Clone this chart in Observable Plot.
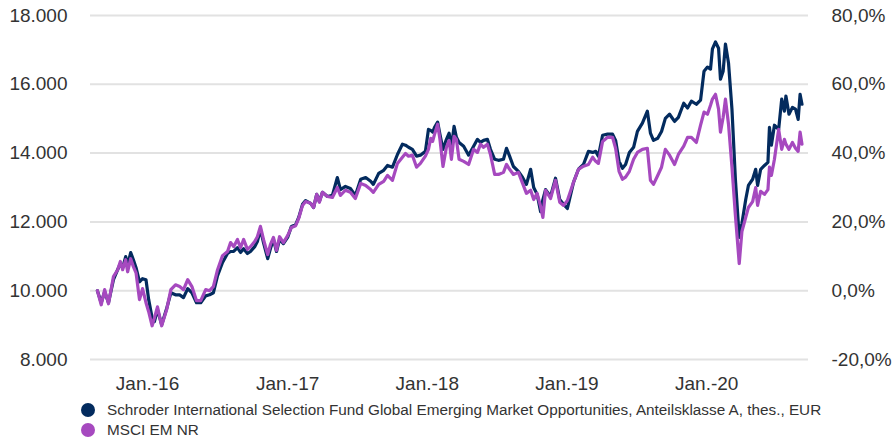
<!DOCTYPE html>
<html><head><meta charset="utf-8">
<script src="https://cdn.jsdelivr.net/npm/d3@7"></script>
<script src="https://cdn.jsdelivr.net/npm/@observablehq/plot@0.6"></script>
<style>
html,body{margin:0;padding:0;background:#fff;}
body{font-family:"Liberation Sans",Arial,Helvetica,sans-serif;width:893px;height:442px;overflow:hidden;}
#legend{font-size:15.3px;color:#333;}
.item{display:flex;align-items:center;height:20px;}
.sw{width:14px;height:14px;border-radius:50%;margin-left:81px;margin-right:12px;flex:none;}
</style></head><body>
<div id="chart"></div>
<div id="legend"></div>
<script>
const dates = [
"2015-08-23","2015-09-02","2015-09-11","2015-09-21","2015-10-04","2015-10-15","2015-10-22","2015-10-28","2015-11-05","2015-11-10","2015-11-18","2015-11-25","2015-12-02","2015-12-11","2015-12-19","2015-12-28",
"2016-01-04","2016-01-13","2016-01-19","2016-01-27","2016-02-07","2016-02-20","2016-03-02","2016-03-14","2016-03-25","2016-04-04","2016-04-15","2016-04-26","2016-05-08","2016-05-19","2016-06-01","2016-06-11","2016-06-21","2016-07-02","2016-07-15","2016-07-28","2016-08-05","2016-08-13","2016-08-23","2016-08-31","2016-09-08","2016-09-18","2016-09-26","2016-10-07","2016-10-14","2016-10-22","2016-10-30","2016-11-10","2016-11-17","2016-11-25","2016-12-03","2016-12-11","2016-12-21",
"2017-01-01","2017-01-11","2017-01-22","2017-01-30","2017-02-09","2017-02-17","2017-03-02","2017-03-10","2017-03-18","2017-03-25","2017-04-02","2017-04-15","2017-04-28","2017-05-11","2017-05-19","2017-06-01","2017-06-14","2017-06-27","2017-07-11","2017-07-24","2017-08-06","2017-08-13","2017-08-27","2017-09-09","2017-09-19","2017-10-02","2017-10-15","2017-10-28","2017-11-05","2017-11-13","2017-11-23","2017-12-04","2017-12-14","2017-12-27",
"2018-01-04","2018-01-10","2018-01-15","2018-01-20","2018-01-28","2018-02-03","2018-02-11","2018-02-20","2018-02-27","2018-03-05","2018-03-12","2018-03-18","2018-03-25","2018-04-06","2018-04-19","2018-05-02","2018-05-12","2018-05-20","2018-05-28","2018-06-07","2018-06-15","2018-06-26","2018-07-06","2018-07-19","2018-07-27","2018-08-04","2018-08-14","2018-08-27","2018-09-07","2018-09-17","2018-09-28","2018-10-06","2018-10-15","2018-10-24","2018-10-30","2018-11-06","2018-11-19","2018-12-02","2018-12-13","2018-12-23",
"2019-01-02","2019-01-18","2019-01-31","2019-02-13","2019-02-26","2019-03-09","2019-03-17","2019-03-24","2019-04-04","2019-04-17","2019-04-30","2019-05-08","2019-05-17","2019-05-26","2019-06-03","2019-06-13","2019-06-24","2019-07-04","2019-07-17","2019-07-30","2019-08-07","2019-08-15","2019-08-26","2019-09-05","2019-09-15","2019-09-26","2019-10-09","2019-10-19","2019-11-02","2019-11-12","2019-11-22","2019-12-05","2019-12-16","2019-12-25",
"2020-01-03","2020-01-11","2020-01-16","2020-01-24","2020-02-01","2020-02-06","2020-02-13","2020-02-19","2020-02-27","2020-03-07","2020-03-16","2020-03-26","2020-04-02","2020-04-12","2020-04-19","2020-04-30","2020-05-08","2020-05-13","2020-05-21","2020-05-31","2020-06-09","2020-06-13","2020-06-18","2020-06-26","2020-07-07","2020-07-15","2020-07-22","2020-07-26","2020-08-03","2020-08-12","2020-08-20","2020-08-27","2020-09-01","2020-09-06"
];

const fundValues = [
10000,9650,9970,9650,10320,10610,10790,10670,10990,10730,11110,10900,10670,10260,10350,10320,
9740,9210,9100,9450,9010,9480,9940,9880,9880,9800,10060,9940,9650,9650,9850,9880,9940,10440,10820,11080,11140,11140,11250,11110,11220,11080,11140,11280,11430,11780,11400,10930,11220,11490,11140,11490,11370,
11550,11870,11920,12130,12510,12620,12540,12420,12800,12590,12860,12740,12770,13290,12940,13030,12970,12770,13240,13290,13180,13090,13410,13500,13640,13590,13960,14260,14230,14170,14110,13910,13940,14050,
14690,14660,14610,14750,14900,14550,14110,14400,14580,14170,14780,14460,14310,14200,13940,14200,14400,14310,14370,14400,14110,13820,13790,13820,14140,13910,13610,13470,13290,13090,13530,13000,12800,12300,12650,12940,12740,13270,12650,12510,
12390,13150,13530,13670,14050,14020,14050,13910,14520,14550,14550,14370,13760,13560,13670,14020,14170,14630,14870,15220,14580,14370,14430,14630,15010,15130,14920,15040,15450,15310,15510,15420,15540,16380,
16500,16440,17030,17230,17050,16150,16380,17170,16620,15280,13240,11550,11950,12650,13060,13240,13530,13060,13530,13640,13730,14750,14230,14810,14690,15570,15220,15660,15130,15330,15280,14980,15710,15420
];

const indexValues = [
10000,9590,10030,9620,10410,10610,10850,10610,10900,10550,10930,10700,10520,9740,10060,9650,
9390,8980,9210,9530,8980,9450,10030,10170,10120,10030,10320,10120,9710,9710,10030,10000,10120,10610,11020,11140,11400,11280,11490,11250,11490,11200,11280,11430,11570,11870,11490,11050,11340,11550,11170,11570,11400,
11600,11840,11890,12100,12480,12590,12540,12420,12800,12570,12860,12740,12710,13000,12770,12920,12860,12680,13120,13060,12940,12860,13090,13180,13350,13210,13700,13880,13990,13910,13940,13590,13700,13910,
14110,14430,14340,14550,14840,14400,13610,14170,14370,13820,14490,14400,13820,13760,13670,14110,14020,14260,14170,14260,13960,13380,13380,13440,13670,13530,13380,13440,13120,12830,12920,12650,12830,12450,12130,12920,12680,13210,12570,12480,
12620,13150,13530,13620,13670,13880,13760,13700,14340,14460,14460,14140,13470,13240,13300,13470,13820,14020,14110,14140,13210,13090,13350,13590,14110,13940,13670,13960,14200,14460,14460,14310,14810,15190,
15130,15390,15570,15710,15280,14610,15040,15570,14840,13590,12190,10790,11720,12130,12420,12590,13000,12480,12890,12800,12940,13590,13350,13820,14690,14110,14400,14260,14110,14310,14140,14050,14610,14260
];

const seriesNames = [
  "Schroder International Selection Fund Global Emerging Market Opportunities, Anteilsklasse A, thes., EUR",
  "MSCI EM NR"
];
const seriesColors = ["#032b5e", "#a649bf"];

const yTicks = [8000, 10000, 12000, 14000, 16000, 18000];
const xTickDates = ["2016-01-01", "2017-01-01", "2018-01-01", "2019-01-01", "2020-01-01"];
const xTickLabels = ["Jan.-16", "Jan.-17", "Jan.-18", "Jan.-19", "Jan.-20"];
const xDomain = ["2015-08-05", "2020-09-23"];

const parse = d3.utcParse("%Y-%m-%d");
const de = d3.formatLocale({decimal: ",", thousands: ".", grouping: [3], currency: ["", "\u20ac"], minus: "-"});
const fmtLeft = de.format(",.0f");
const fmtPct = de.format(".1f");
const fmtRight = v => fmtPct(v / 100 - 100) + "%";
const tickDateObjs = xTickDates.map(parse);
const fmtX = d => xTickLabels[tickDateObjs.findIndex(t => +t === +d)];

const fundRows = dates.map((d, i) => ({date: parse(d), value: fundValues[i], series: seriesNames[0]}));
const indexRows = dates.map((d, i) => ({date: parse(d), value: indexValues[i], series: seriesNames[1]}));

const chart = Plot.plot({
  width: 893,
  height: 400,
  marginLeft: 90,
  marginRight: 85,
  marginTop: 15,
  marginBottom: 41,
  style: {fontFamily: "'Liberation Sans', Arial, Helvetica, sans-serif", fontSize: "19px", color: "#333", background: "#fff", overflow: "visible"},
  x: {type: "utc", domain: xDomain.map(parse)},
  y: {domain: [8000, 18000]},
  marks: [
    Plot.gridY(yTicks, {stroke: "#e2e2e2", strokeOpacity: 1, strokeWidth: 2}),
    Plot.axisY(yTicks, {anchor: "left", tickSize: 0, tickPadding: 23, tickFormat: fmtLeft, label: null}),
    Plot.axisY(yTicks, {anchor: "right", tickSize: 0, tickPadding: 23, tickFormat: fmtRight, label: null}),
    Plot.axisX(tickDateObjs, {anchor: "bottom", tickSize: 0, tickPadding: 17, tickFormat: fmtX, label: null}),
    Plot.line(fundRows, {x: "date", y: "value", stroke: seriesColors[0], strokeWidth: 3.2, strokeLinejoin: "round"}),
    Plot.line(indexRows, {x: "date", y: "value", stroke: seriesColors[1], strokeWidth: 3.2, strokeLinejoin: "round"})
  ]
});
document.getElementById("chart").appendChild(chart);

const legend = document.getElementById("legend");
seriesNames.forEach((name, i) => {
  const item = document.createElement("div");
  item.className = "item";
  const sw = document.createElement("span");
  sw.className = "sw";
  sw.style.background = seriesColors[i];
  const label = document.createElement("span");
  label.textContent = name;
  item.appendChild(sw);
  item.appendChild(label);
  legend.appendChild(item);
});
</script>
</body></html>
